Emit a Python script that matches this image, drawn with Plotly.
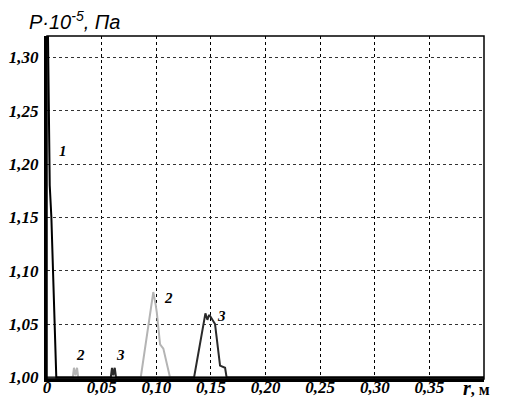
import plotly.graph_objects as go

# data
r1 = [0.0, 0.0015, 0.0025, 0.0040, 0.0053, 0.0068, 0.0085, 0.40]
p1 = [1.40, 1.25, 1.18, 1.15, 1.10, 1.05, 1.00, 1.00]

r2 = [0.0, 0.0236, 0.0247, 0.0261, 0.0275, 0.0286,
      0.0858, 0.0943, 0.0950, 0.0973, 0.0995, 0.1005, 0.1035, 0.1065, 0.1126, 0.40]
p2 = [1.00, 1.00, 1.009, 1.002, 1.009, 1.00,
      1.00, 1.061, 1.068, 1.080, 1.068, 1.061, 1.031, 1.027, 1.00, 1.00]

r3 = [0.0, 0.0584, 0.0595, 0.0607, 0.0620, 0.0632,
      0.1346, 0.1420, 0.1443, 0.1450, 0.1468, 0.1482, 0.1490, 0.1538, 0.1584, 0.1630, 0.1644, 0.40]
p3 = [1.00, 1.00, 1.009, 1.002, 1.009, 1.00,
      1.00, 1.045, 1.060, 1.060, 1.054, 1.058, 1.058, 1.050, 1.011, 1.009, 1.00, 1.00]

x_ticks = [0, 0.05, 0.10, 0.15, 0.20, 0.25, 0.30, 0.35]
x_text = ["0", "0,05", "0,10", "0,15", "0,20", "0,25", "0,30", "0,35"]
y_ticks = [1.00, 1.05, 1.10, 1.15, 1.20, 1.25, 1.30]
y_text = ["1,00", "1,05", "1,10", "1,15", "1,20", "1,25", "1,30"]

# curve labels: (r, P, text)
labels = [(0.0142, 1.212, "1"), (0.0306, 1.021, "2"), (0.0670, 1.021, "3"),
          (0.1110, 1.074, "2"), (0.1600, 1.058, "3")]

serif = "Liberation Serif, Times New Roman, serif"

fig = go.Figure()
fig.add_trace(go.Scatter(x=r2, y=p2, mode="lines", line=dict(color="#b4b4b4", width=2)))
fig.add_trace(go.Scatter(x=r3, y=p3, mode="lines", line=dict(color="#2a2a2a", width=2)))
fig.add_trace(go.Scatter(x=r1, y=p1, mode="lines", line=dict(color="black", width=2)))

ann = []
for x, y, t in labels:
    ann.append(dict(x=x, y=y, text="<b><i>" + t + "</i></b>", showarrow=False,
                    font=dict(family=serif, size=15, color="black")))
ann.append(dict(xref="paper", yref="paper", x=-0.045, y=1.0, xanchor="left", yanchor="bottom",
                yshift=1, text="<i>P·10<sup>-5</sup>, Па</i>", showarrow=False,
                font=dict(family="Liberation Sans", size=20, color="black")))
ann.append(dict(xref="paper", yref="paper", x=1.0, y=0, xanchor="left", yanchor="middle",
                xshift=-23, yshift=-9,
                text="<b><i><span style='font-size:20px'>r</span></i>, м</b>", showarrow=False,
                font=dict(family=serif, size=16, color="black")))

# the page body adds an 8px margin, so the figure is drawn 8px smaller
fig.update_layout(
    width=498, height=393,
    margin=dict(l=39, r=22, t=28, b=22),
    paper_bgcolor="white", plot_bgcolor="white",
    showlegend=False,
    annotations=ann,
    shapes=[dict(type="rect", xref="paper", yref="paper", x0=0, x1=1, y0=0, y1=1,
                 line=dict(color="black", width=1.5))],
)
fig.update_xaxes(range=[0, 0.4], tickvals=x_ticks, automargin=False,
                 ticktext=["<b><i>" + t + "</i></b>" for t in x_text],
                 showgrid=True, gridcolor="black", griddash="3px,3px", gridwidth=1,
                 showline=True, linecolor="black", linewidth=3, ticks="",
                 zeroline=False, ticklabelstandoff=-9,
                 tickfont=dict(family=serif, size=17, color="black"))
fig.update_yaxes(range=[0.9985, 1.32], tickvals=y_ticks, automargin=False,
                 ticktext=["<b><i>" + t + "</i></b>" for t in y_text],
                 showgrid=True, gridcolor="#333", griddash="3px,3px", gridwidth=1,
                 showline=True, linecolor="black", linewidth=3, ticks="",
                 zeroline=False, ticklabelstandoff=2,
                 tickfont=dict(family=serif, size=17, color="black"))

fig.write_html("out.html")
